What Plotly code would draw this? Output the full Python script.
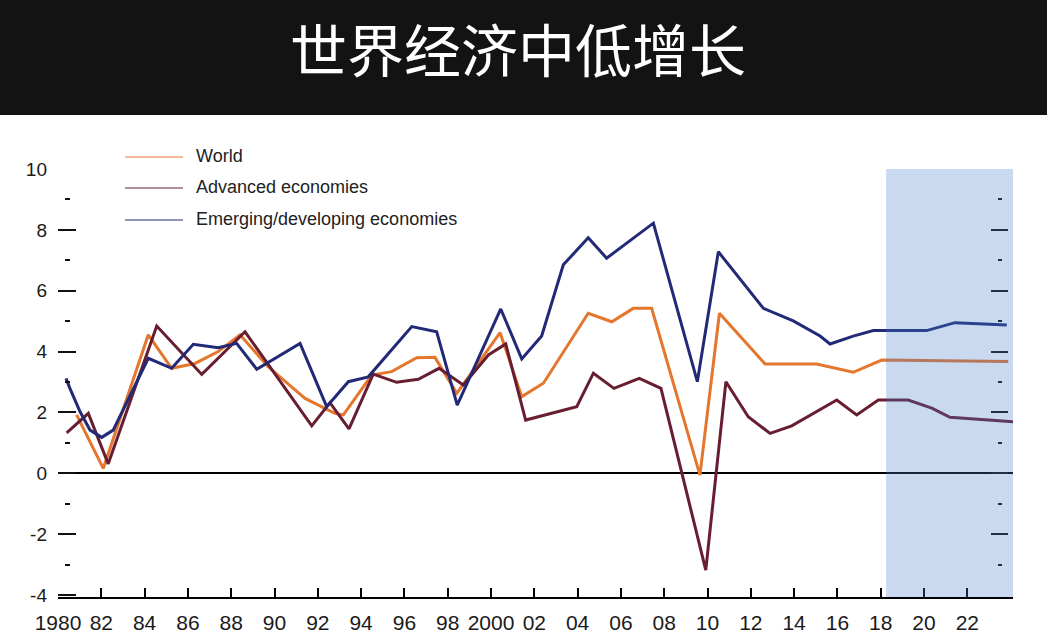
import plotly.graph_objects as go

TITLE = "世界经济中低增长"
SERIES_NAMES = ["World", "Advanced economies", "Emerging/developing economies"]

# x positions (years) and values (% growth)
WORLD_YEARS = [1980.86, 1982.09, 1984.17, 1985.25, 1986.33, 1987.40, 1988.41, 1989.71, 1990.95, 1991.41,
               1992.79, 1993.18, 1994.49, 1995.41, 1996.57, 1997.41, 1998.42, 2000.42, 2001.42, 2002.42,
               2004.49, 2005.58, 2006.57, 2007.42, 2009.65, 2010.55, 2012.66, 2015.04, 2016.73, 2018.05,
               2023.89]
WORLD = [1.92, 0.16, 4.55, 3.45, 3.61, 4.00, 4.55, 3.50, 2.74, 2.46,
         1.97, 1.92, 3.23, 3.34, 3.80, 3.81, 2.63, 4.62, 2.52, 2.96,
         5.26, 4.98, 5.42, 5.42, -0.06, 5.26, 3.59, 3.59, 3.32, 3.72,
         3.67]

ADV_YEARS = [1980.40, 1981.40, 1982.32, 1984.56, 1986.64, 1988.64, 1991.72, 1992.56, 1993.44, 1994.56,
             1995.64, 1996.64, 1997.60, 1998.72, 1999.88, 2000.68, 2001.60, 2003.96, 2004.73, 2005.68,
             2006.85, 2007.85, 2009.92, 2010.85, 2011.88, 2012.89, 2013.89, 2015.97, 2016.89, 2017.89,
             2019.27, 2020.36, 2021.20, 2024.13]
ADVANCED = [1.33, 1.97, 0.31, 4.84, 3.25, 4.65, 1.56, 2.32, 1.46, 3.26,
            2.99, 3.09, 3.45, 2.90, 3.89, 4.25, 1.75, 2.19, 3.29, 2.79,
            3.12, 2.79, -3.18, 3.01, 1.86, 1.31, 1.56, 2.41, 1.92, 2.41,
            2.41, 2.14, 1.84, 1.69]

EM_YEARS = [1980.37, 1980.55, 1981.02, 1981.48, 1982.02, 1982.55, 1984.17, 1985.25, 1986.25, 1987.40,
            1988.25, 1989.18, 1991.18, 1992.41, 1993.41, 1994.33, 1996.34, 1997.49, 1998.44, 2000.45,
            2001.42, 2002.34, 2003.34, 2004.49, 2005.34, 2007.50, 2009.53, 2010.50, 2012.58, 2013.96,
            2015.20, 2015.66, 2016.73, 2017.66, 2020.12, 2021.43, 2023.82]
EMERGING = [3.12, 2.79, 2.02, 1.42, 1.18, 1.42, 3.78, 3.45, 4.24, 4.13,
            4.27, 3.42, 4.27, 2.19, 3.01, 3.17, 4.82, 4.65, 2.24, 5.40,
            3.76, 4.51, 6.85, 7.74, 7.07, 8.22, 3.01, 7.28, 5.42, 5.01,
            4.51, 4.25, 4.51, 4.69, 4.69, 4.95, 4.87]

X_TICKS = [1980, 1982, 1984, 1986, 1988, 1990, 1992, 1994, 1996, 1998, 2000,
           2002, 2004, 2006, 2008, 2010, 2012, 2014, 2016, 2018, 2020, 2022]
X_LABELS = ["1980", "82", "84", "86", "88", "90", "92", "94", "96", "98", "2000",
            "02", "04", "06", "08", "10", "12", "14", "16", "18", "20", "22"]
Y_TICKS = [10, 8, 6, 4, 2, 0, -2, -4]
Y_LABELS = ["10", "8", "6", "4", "2", "0", "-2", "-4"]
Y_MINOR = [9, 7, 5, 3, 1, -1, -3]
FORECAST_START = 2018.25

X_RANGE = [1980, 2024.11]
Y_RANGE = [-4.065, 10]

COLORS = {"World": "#e4762e", "Advanced economies": "#681e30", "Emerging/developing economies": "#222a78"}

W, H = 1047, 644
ML, MR, MT, MB = 58, 34, 169, 47
PW = W - ML - MR
PH = H - MT - MB


def px_to_paper_x(px):
    return (px - ML) / PW


def px_to_paper_y(py):
    return 1 - (py - MT) / PH


fig = go.Figure()
for name, xs, ys in [("World", WORLD_YEARS, WORLD),
                     ("Advanced economies", ADV_YEARS, ADVANCED),
                     ("Emerging/developing economies", EM_YEARS, EMERGING)]:
    fig.add_trace(go.Scatter(x=xs, y=ys, mode="lines", name=name,
                             line=dict(color=COLORS[name], width=3),
                             showlegend=False, hoverinfo="x+y"))

# invisible helpers so the extra tick axes are drawn
for ya in ["y2", "y3", "y4"]:
    fig.add_trace(go.Scatter(x=[X_RANGE[0]], y=[0], yaxis=ya, mode="markers",
                             marker=dict(opacity=0), showlegend=False, hoverinfo="skip"))

axis_common = dict(range=Y_RANGE, showgrid=False, zeroline=False, showline=False,
                   fixedrange=True, automargin=False)

fig.update_layout(
    width=W, height=H, autosize=False,
    margin=dict(l=ML, r=MR, t=MT, b=MB, pad=0, autoexpand=False),
    paper_bgcolor="white", plot_bgcolor="white",
    showlegend=False,
    xaxis=dict(range=X_RANGE, tickvals=X_TICKS, ticktext=X_LABELS, automargin=False,
               showgrid=False, zeroline=False, showline=True, linecolor="black", linewidth=2,
               ticks="inside", ticklen=9, tickwidth=2, tickcolor="black",
               ticklabelstandoff=6,
               tickfont=dict(family="Liberation Sans, Arial", size=21, color="#1a1a1a")),
    yaxis=dict(range=Y_RANGE, tickvals=Y_TICKS, ticktext=Y_LABELS, automargin=False,
               showgrid=False, zeroline=True, zerolinecolor="black", zerolinewidth=2,
               showline=False, ticks="inside", ticklen=18, tickwidth=2, tickcolor="#111",
               ticklabelstandoff=10,
               tickfont=dict(family="Liberation Sans, Arial", size=19, color="#1a1a1a")),
    yaxis2=dict(axis_common, overlaying="y", side="left", anchor="free", position=px_to_paper_x(64),
                tickvals=Y_MINOR, ticks="inside", ticklen=5, tickwidth=2, tickcolor="#111",
                showticklabels=False),
    yaxis3=dict(axis_common, overlaying="y", side="right", anchor="free", position=px_to_paper_x(1008),
                tickvals=Y_TICKS[:-1], ticks="inside", ticklen=17, tickwidth=2, tickcolor="#111",
                showticklabels=False),
    yaxis4=dict(axis_common, overlaying="y", side="right", anchor="free", position=px_to_paper_x(1002),
                tickvals=Y_MINOR, ticks="inside", ticklen=4, tickwidth=2, tickcolor="#111",
                showticklabels=False),
)

# title band
fig.add_shape(type="rect", xref="paper", yref="paper",
              x0=px_to_paper_x(-5), x1=px_to_paper_x(W + 5),
              y0=px_to_paper_y(115), y1=px_to_paper_y(-5),
              fillcolor="#131313", line=dict(width=0), layer="below")
fig.add_annotation(text=TITLE, xref="paper", yref="paper",
                   x=px_to_paper_x(518), y=px_to_paper_y(47), xanchor="center", yanchor="middle",
                   showarrow=False,
                   font=dict(family="Noto Sans CJK SC", size=57, color="white"))

# forecast shading
fig.add_shape(type="rect", xref="x", yref="paper", x0=FORECAST_START, x1=X_RANGE[1],
              y0=0, y1=1, fillcolor="rgba(70,125,205,0.29)", line=dict(width=0), layer="above")

# legend
legend_rows = [157, 188, 220]
for name, row in zip(SERIES_NAMES, legend_rows):
    fig.add_shape(type="line", xref="paper", yref="paper",
                  x0=px_to_paper_x(125), x1=px_to_paper_x(183),
                  y0=px_to_paper_y(row), y1=px_to_paper_y(row),
                  line=dict(color=COLORS[name], width=1))
    fig.add_annotation(text=name, xref="paper", yref="paper",
                       x=px_to_paper_x(194), y=px_to_paper_y(row - 1), xanchor="left", yanchor="middle",
                       showarrow=False,
                       font=dict(family="Liberation Sans, Arial", size=18, color="#222"))

fig.write_html("out.html", config={"displayModeBar": False},
               post_script="document.body.style.margin='0';document.body.style.overflow='hidden';")
